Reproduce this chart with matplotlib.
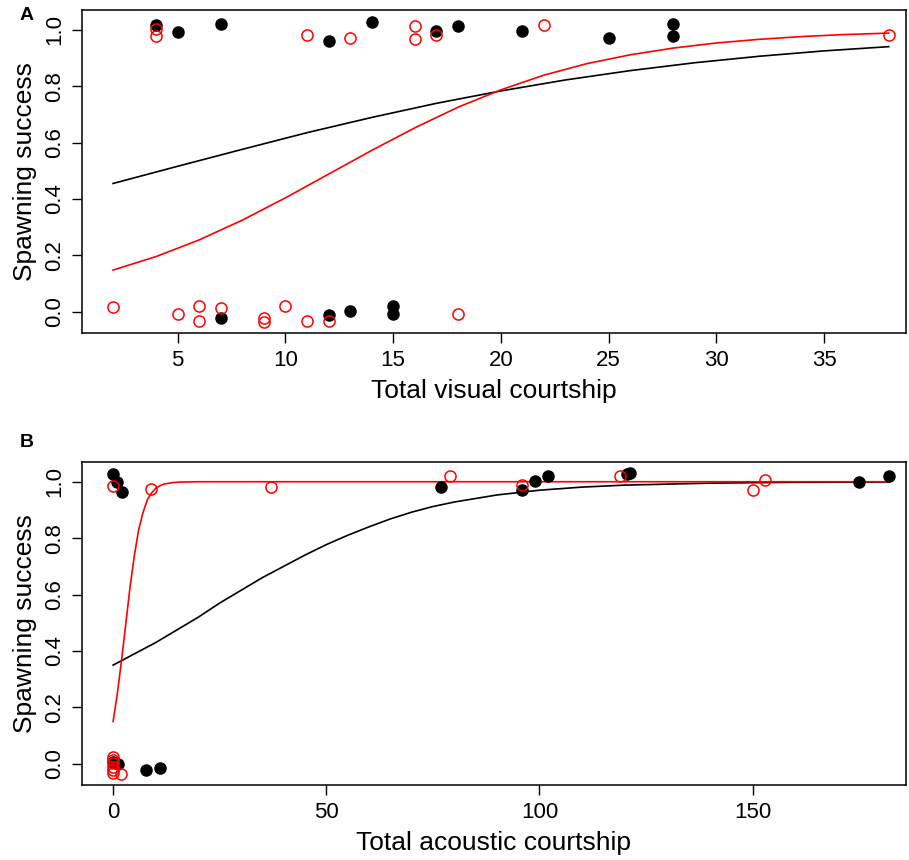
import numpy as np
import matplotlib
matplotlib.use("Agg")
import matplotlib.pyplot as plt

plt.rcParams['font.family'] = ['Liberation Sans', 'DejaVu Sans']

# panel A - visual courtship (points jittered on y, as in the original)
vis_black_x = [4, 5, 7, 12, 14, 17, 18, 21, 25, 28, 28, 7, 12, 13, 15, 15]
vis_black_y = [1.018, 0.993, 1.02, 0.96, 1.027, 0.994, 1.013, 0.996, 0.969, 1.02, 0.977,
               -0.022, -0.011, 0.002, 0.02, -0.006]
vis_red_x = [4, 4, 11, 13, 16, 16, 17, 22, 38, 2, 5, 6, 6, 7, 9, 9, 10, 11, 12, 18]
vis_red_y = [1.002, 0.979, 0.982, 0.969, 1.013, 0.966, 0.981, 1.015, 0.983,
             0.018, -0.008, 0.02, -0.033, 0.012, -0.022, -0.037, 0.019, -0.034, -0.033, -0.006]

# fitted curves, values
vis_fit_black_x = [2, 5, 8, 11, 14, 17, 20, 23, 26, 29, 32, 35, 38]
vis_fit_black_y = [0.455, 0.516, 0.576, 0.635, 0.689, 0.739, 0.783, 0.822, 0.855, 0.883, 0.906, 0.925, 0.94]
vis_fit_red_x = [2, 4, 6, 8, 10, 12, 14, 16, 18, 20, 22, 24, 26, 28, 30, 32, 34, 36, 38]
vis_fit_red_y = [0.148, 0.196, 0.255, 0.325, 0.404, 0.488, 0.572, 0.652, 0.725, 0.787,
                 0.839, 0.880, 0.911, 0.935, 0.953, 0.966, 0.976, 0.983, 0.988]

# panel B - acoustic courtship
ac_black_x = [0, 1, 2, 77, 96, 99, 102, 120.6, 121.2, 175, 182, 0, 1.2, 7.7, 11]
ac_black_y = [1.027, 0.998, 0.963, 0.981, 0.972, 1.002, 1.021, 1.029, 1.032, 1.0, 1.019,
              0.007, -0.001, -0.022, -0.013]
ac_red_x = [0, 9, 37, 79, 96, 119, 150, 153, 0, 0, 0, 0, 0, 0, 1.9]
ac_red_y = [0.985, 0.974, 0.983, 1.019, 0.988, 1.02, 0.971, 1.006,
            0.025, 0.014, 0.003, -0.01, -0.022, -0.032, -0.037]

ac_fit_black_x = [0, 5, 10, 15, 20, 25, 30, 35, 40, 45, 50, 55, 60, 65, 70, 75, 80,
                  90, 100, 110, 120, 140, 160, 182]
ac_fit_black_y = [0.35, 0.39, 0.43, 0.475, 0.52, 0.57, 0.615, 0.66, 0.70, 0.74, 0.777, 0.81,
                  0.84, 0.868, 0.892, 0.912, 0.928, 0.953, 0.97, 0.981, 0.988, 0.995, 0.998, 0.999]
ac_fit_red_x = [0, 1, 2, 3, 4, 5, 6, 7, 8, 9, 10, 11, 12, 14, 16, 20, 40, 182]
ac_fit_red_y = [0.15, 0.25, 0.37, 0.50, 0.63, 0.74, 0.83, 0.89, 0.935, 0.96, 0.977, 0.986,
                0.992, 0.997, 0.999, 1.0, 1.0, 1.0]

fig = plt.figure(figsize=(9.09, 8.6), dpi=100)
axA = fig.add_axes([0.0902, 0.6128, 0.9065, 0.3756])
axB = fig.add_axes([0.0902, 0.0872, 0.9065, 0.3756])

def style(ax, xlabel):
    ax.set_yticks([0.0, 0.2, 0.4, 0.6, 0.8, 1.0])
    ax.set_yticklabels(['0.0', '0.2', '0.4', '0.6', '0.8', '1.0'], rotation=90, va='center')
    ax.set_ylim(-0.075, 1.07)
    ax.tick_params(labelsize=16, length=7, width=1, pad=5)
    ax.set_xlabel(xlabel, fontsize=19, labelpad=6)
    ax.set_ylabel('Spawning success', fontsize=19, labelpad=5)
    for s in ax.spines.values():
        s.set_linewidth(1.1)

axA.plot(vis_fit_black_x, vis_fit_black_y, color='black', lw=1.2)
axA.plot(vis_fit_red_x, vis_fit_red_y, color='red', lw=1.2)
axA.plot(vis_black_x, vis_black_y, 'o', color='black', ms=8)
axA.plot(vis_red_x, vis_red_y, 'o', mfc='none', mec='red', mew=1.1, ms=8)
axA.set_xlim(0.56, 38.8)
axA.set_xticks([5, 10, 15, 20, 25, 30, 35])
style(axA, 'Total visual courtship')

axB.plot(ac_fit_black_x, ac_fit_black_y, color='black', lw=1.2)
axB.plot(ac_fit_red_x, ac_fit_red_y, color='red', lw=1.2)
axB.plot(ac_black_x, ac_black_y, 'o', color='black', ms=8)
axB.plot(ac_red_x, ac_red_y, 'o', mfc='none', mec='red', mew=1.1, ms=8)
axB.set_xlim(-7.3, 186)
axB.set_xticks([0, 50, 100, 150])
style(axB, 'Total acoustic courtship')

fig.text(0.022, 0.982, 'A', fontsize=14, fontweight='bold', va='center')
fig.text(0.022, 0.485, 'B', fontsize=14, fontweight='bold', va='center')

fig.savefig('out.png', dpi=100)
